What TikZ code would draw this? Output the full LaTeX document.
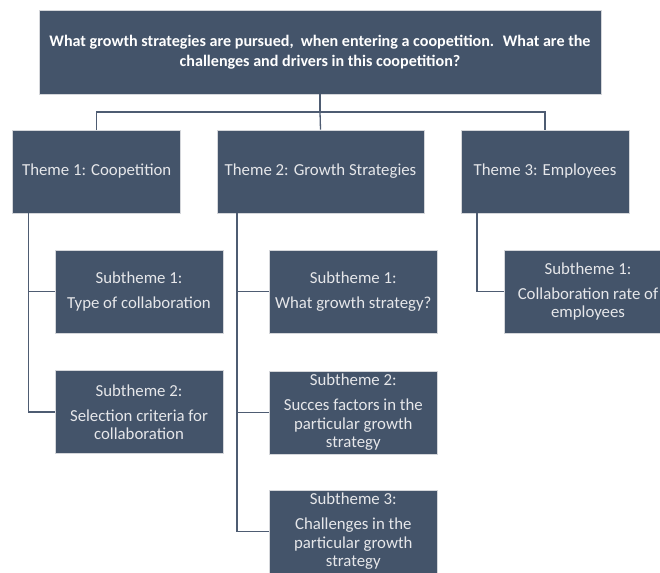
\documentclass[tikz,border=0pt]{standalone}
\usepackage{fontspec}
\setmainfont{Carlito}
\usetikzlibrary{calc}
\definecolor{boxfill}{HTML}{44546A}
\definecolor{boxedge}{HTML}{D4D6DA}
\definecolor{boxtext}{HTML}{E6E7EA}
\definecolor{linecol}{HTML}{4E5C72}
\tikzset{
  box/.style={draw=boxedge, line width=0.9pt, fill=boxfill, text=boxtext, align=center, inner sep=0pt,
    font=\fontsize{16.8}{18.5}\selectfont},
  topbox/.style={box, text=white, minimum width=562pt, minimum height=84pt, font=\bfseries\fontsize{16.1}{20}\selectfont},
  themebox/.style={box, minimum height=83pt},
  subbox/.style={box, minimum width=168pt, minimum height=83pt},
  conn/.style={draw=linecol, line width=1.3pt}
}
\begin{document}
\begin{tikzpicture}[x=1pt,y=-1pt]
\clip (0,0) rectangle (660,572);
\fill[white] (0,0) rectangle (660,572);
\node[topbox] (top) at (320,52) {What growth strategies are pursued, \ when entering a coopetition. \ What are the\\challenges and drivers in this coopetition?};
\node[themebox, minimum width=168pt] (t1) at (96.7,171.5) {Theme 1: Coopetition};
\node[themebox, minimum width=207pt] (t2) at (320.5,171.5) {Theme 2: Growth Strategies};
\node[themebox, minimum width=168pt] (t3) at (545,171.5) {Theme 3: Employees};
\node[subbox] (s11) at (139,291.5) {Subtheme 1:\\[6.5pt]Type of collaboration};
\node[subbox] (s12) at (139,412) {Subtheme 2:\\[6.5pt]Selection criteria for\\collaboration};
\node[subbox] (s21) at (353.3,291.5) {Subtheme 1:\\[6.5pt]What growth strategy?};
\node[subbox] (s22) at (353.3,412.5) {Subtheme 2:\\[6.5pt]Succes factors in the\\particular growth\\strategy};
\node[subbox] (s23) at (353.3,531.5) {Subtheme 3:\\[6.5pt]Challenges in the\\particular growth\\strategy};
\node[subbox] (s31) at (588,291.5) {Subtheme 1:\\[6.5pt]Collaboration rate of\\employees};
% connectors
\coordinate (bus) at (320,112);
\draw[conn] (top.south) -- (bus);
\draw[conn] (bus) -| (t1.north);
\draw[conn] (bus) -| (t3.north);
\draw[conn] (bus) -- (t2.north);
\draw[conn] ($(t1.south west)+(16.3,0)$) |- (s11.west);
\draw[conn] ($(t1.south west)+(16.3,0)$) |- (s12.west);
\draw[conn] ($(t2.south west)+(20.3,0)$) |- (s21.west);
\draw[conn] ($(t2.south west)+(20.3,0)$) |- (s22.west);
\draw[conn] ($(t2.south west)+(20.3,0)$) |- (s23.west);
\draw[conn] ($(t3.south west)+(16.3,0)$) |- (s31.west);
\end{tikzpicture}
\end{document}
